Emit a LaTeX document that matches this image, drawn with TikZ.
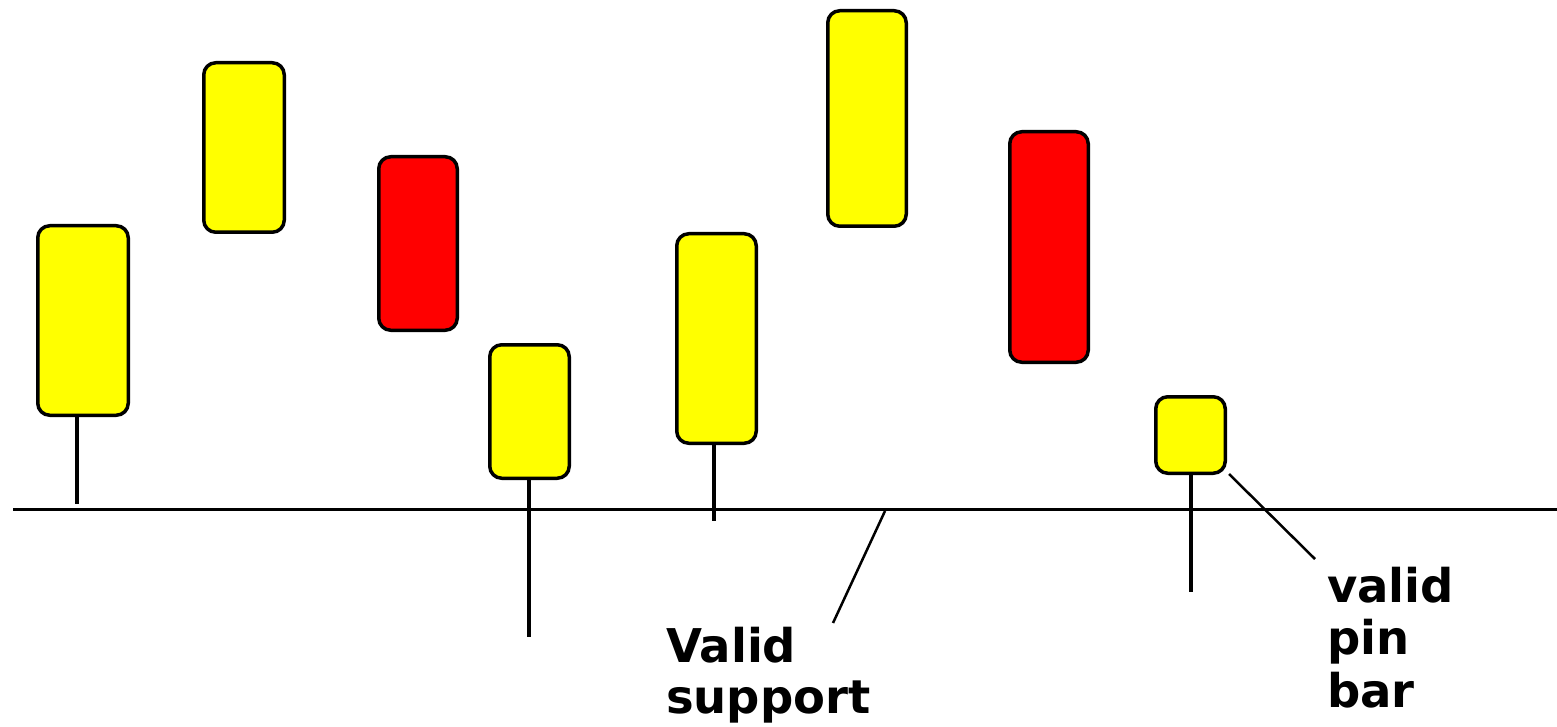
\documentclass[tikz,border=0pt]{standalone}
\usepackage{fontspec}
\setmainfont{DejaVu Sans}
\definecolor{cyel}{RGB}{255,255,0}
\definecolor{cred}{RGB}{255,0,0}
\begin{document}
\begin{tikzpicture}[x=1pt,y=-1pt,
  candle/.style={draw=black,line width=3.5pt,rounded corners=12pt,inner sep=0pt,outer sep=0pt,rectangle},
  bull/.style={candle,fill=cyel},
  bear/.style={candle,fill=cred},
  wick/.style={line width=3.5pt,line cap=butt},
  ptr/.style={line width=2.5pt},
  lbl/.style={inner sep=0pt,anchor=base west,font=\bfseries\fontsize{46.5}{51}\selectfont}]
\useasboundingbox (0,0) rectangle (1557,727);
% support line
\coordinate (L0) at (13,509.5);
\coordinate (L1) at (1557,509.5);
\draw[line width=3.2pt] (L0) -- (L1);
% candles
\node[bull,minimum width=90.5pt,minimum height=189.5pt] (c1) at (83,320.5) {};
\node[bull,minimum width=80.5pt,minimum height=169.5pt] (c2) at (244,147.5) {};
\node[bear,minimum width=78.5pt,minimum height=173.5pt] (c3) at (418,243.5) {};
\node[bull,minimum width=79.5pt,minimum height=133.5pt] (c4) at (529.5,411.5) {};
\node[bull,minimum width=79.5pt,minimum height=209.5pt] (c5) at (716.5,338.5) {};
\node[bull,minimum width=78.5pt,minimum height=215.5pt] (c6) at (867,118.5) {};
\node[bear,minimum width=78.5pt,minimum height=230.5pt] (c7) at (1049,247) {};
\node[bull,minimum width=69.5pt,minimum height=76.5pt] (c8) at (1190.5,435) {};
% wicks
\coordinate (w1) at (77,504);
\coordinate (w4) at (529,637);
\coordinate (w5) at (714,521);
\coordinate (w8) at (1191,592);
\draw[wick] (c1.south -| w1) -- (w1);
\draw[wick] (c4.south -| w4) -- (w4);
\draw[wick] (c5.south -| w5) -- (w5);
\draw[wick] (c8.south -| w8) -- (w8);
% labels
\node[lbl] (s1) at (666,662) {Valid};
\node[lbl] (s2) at (666,713) {support};
\node[lbl] (p1) at (1327,602) {valid};
\node[lbl] (p2) at (1327,654.5) {pin};
\node[lbl] (p3) at (1327,707) {bar};
% pointers
\coordinate (a0) at (885,511);
\coordinate (a1) at (833,623);
\draw[ptr] (a0) -- (a1);
\coordinate (b0) at (1229,474);
\coordinate (b1) at (1315,559);
\draw[ptr] (b0) -- (b1);
\end{tikzpicture}
\end{document}
